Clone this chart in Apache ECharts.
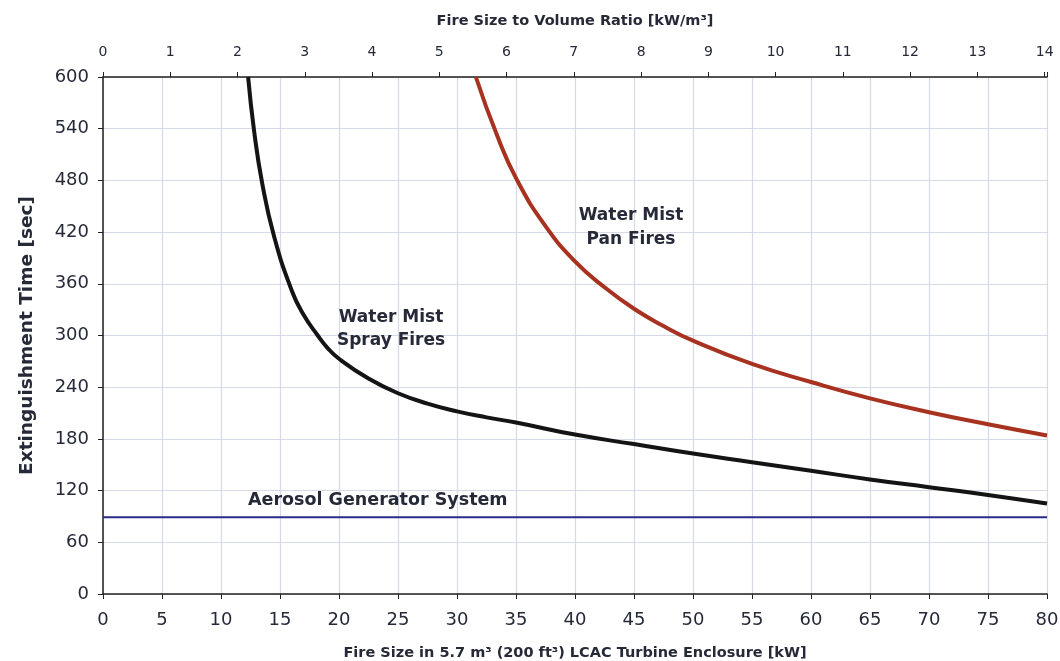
<!DOCTYPE html>
<html><head><meta charset="utf-8">
<script src="https://cdn.jsdelivr.net/npm/echarts@6/dist/echarts.min.js"></script>
<style>html,body{margin:0;padding:0;background:#fff}#c{width:1060px;height:661px}</style>
</head><body><div id="c"></div>
<script>
// Fire size [kW] vs extinguishment time [sec]
const sprayKW   = [12.3, 12.8, 13.5, 14.5, 16.0, 17.0, 18.2, 19, 20, 22.5, 25, 27.5, 30, 32.5, 35, 40, 45, 50, 55, 60, 65, 70, 75, 80];
const sprayTime = [600, 538, 476, 415, 352, 324, 300, 286, 273, 250, 233, 221, 212, 205, 199, 185, 174, 163, 153, 143, 133, 124, 115, 105];
const panKW     = [31.6, 33.4, 35.1, 37.5, 40, 42.5, 45, 47.5, 50, 55, 60, 65, 70, 75, 80];
const panTime   = [600, 532, 480, 427, 386, 356, 331, 311, 294, 267, 246, 227, 211, 197, 184];
const aerosolKW   = [0, 80];
const aerosolTime = [89, 89];
const enclosureVolume = 5.7; // m3
const kwMax = 80;

const font = '"DejaVu Sans", Verdana, sans-serif';
const txt = '#262a38';
const chart = echarts.init(document.getElementById('c'));
chart.setOption({
  animation: false,
  backgroundColor: '#fff',
  grid: {left: 103, right: 13, top: 77, bottom: 67, containLabel: false, outerBoundsMode: 'none'},
  xAxis: [{
    type: 'value', position: 'bottom', min: 0, max: kwMax, interval: 5,
    name: 'Fire Size in 5.7 m³ (200 ft³) LCAC Turbine Enclosure [kW]',
    nameLocation: 'middle', nameGap: 52,
    nameTextStyle: {fontFamily: font, fontWeight: 'bold', fontSize: 14.5, color: txt},
    axisLine: {show: true, onZero: false, lineStyle: {color: '#222', width: 1.5}},
    axisTick: {show: true, length: 5, lineStyle: {color: '#222'}},
    axisLabel: {fontFamily: font, fontSize: 18, color: txt, margin: 17},
    splitLine: {show: true, lineStyle: {color: '#d6d9e8', width: 1.2}}
  }, {
    type: 'value', position: 'top', min: 0, max: kwMax / enclosureVolume, interval: 1,
    name: 'Fire Size to Volume Ratio [kW/m³]',
    nameLocation: 'middle', nameGap: 48,
    nameTextStyle: {fontFamily: font, fontWeight: 'bold', fontSize: 14.5, color: txt},
    axisLine: {show: true, onZero: false, lineStyle: {color: '#222', width: 1.5}},
    axisTick: {show: true, length: 5, lineStyle: {color: '#222'}},
    axisLabel: {fontFamily: font, fontSize: 14, color: txt, margin: 18,
      formatter: v => (Math.abs(v - Math.round(v)) < 1e-6 ? String(Math.round(v)) : '')},
    splitLine: {show: false}
  }],
  yAxis: {
    type: 'value', min: 0, max: 600, interval: 60,
    name: 'Extinguishment Time [sec]', nameLocation: 'middle', nameGap: 66,
    nameTextStyle: {fontFamily: font, fontWeight: 'bold', fontSize: 18.5, color: txt},
    axisLine: {show: true, lineStyle: {color: '#222', width: 1.5}},
    axisTick: {show: true, length: 5, lineStyle: {color: '#222'}},
    axisLabel: {fontFamily: font, fontSize: 18, color: txt, margin: 14},
    splitLine: {show: true, lineStyle: {color: '#d6d9e8', width: 1.2}}
  },
  series: [{
    name: 'Water Mist Spray Fires', type: 'line', smooth: 0.5, showSymbol: false,
    data: sprayKW.map((x, i) => [x, sprayTime[i]]),
    lineStyle: {color: '#141414', width: 4}, z: 3
  }, {
    name: 'Water Mist Pan Fires', type: 'line', smooth: 0.5, showSymbol: false,
    data: panKW.map((x, i) => [x, panTime[i]]),
    lineStyle: {color: '#a6321f', width: 4}, z: 3
  }, {
    name: 'Aerosol Generator System', type: 'line', showSymbol: false,
    data: aerosolKW.map((x, i) => [x, aerosolTime[i]]),
    lineStyle: {color: '#2b2b8a', width: 2}, z: 2
  }],
  graphic: [
    {type: 'text', x: 391, y: 306, z: 100, style: {text: 'Water Mist\nSpray Fires', font: 'bold 17px ' + font, fill: txt, lineHeight: 23, textAlign: 'center'}},
    {type: 'text', x: 631, y: 204, z: 100, style: {text: 'Water Mist\nPan Fires', font: 'bold 17px ' + font, fill: txt, lineHeight: 24, textAlign: 'center'}},
    {type: 'text', x: 248, y: 491, z: 100, style: {text: 'Aerosol Generator System', font: 'bold 17.5px ' + font, fill: txt}}
  ]
});
</script></body></html>
